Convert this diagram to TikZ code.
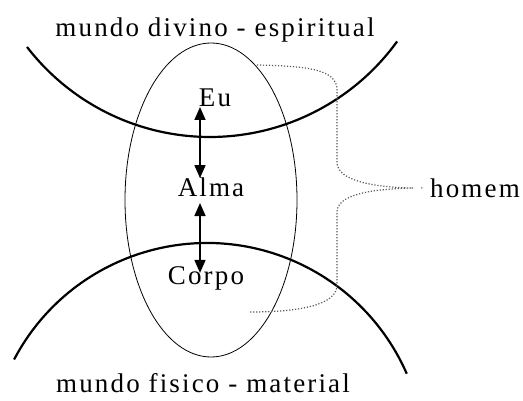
\documentclass[tikz,border=0pt]{standalone}
\usepackage{fontspec}
\setmainfont{Liberation Serif}[LetterSpace=8]
\usetikzlibrary{arrows.meta}
\begin{document}
\begin{tikzpicture}[x=1pt,y=1pt,
  lbl/.style={inner sep=0pt,anchor=base,font=\fontsize{27}{32}\selectfont},
  world/.style={line width=2.2pt},
  arr/.style={line width=1.6pt,{Triangle[length=13pt,width=11pt]}-{Triangle[length=13pt,width=11pt]}},
  brace/.style={line width=1.2pt,dash pattern=on 1.2pt off 1.8pt,black!65}]
\useasboundingbox (0,0) rectangle (523,400);
% worlds
\draw[world] (210,494) ++(217.6:231) arc[start angle=217.6,end angle=324.1,radius=231];
\draw[world] (207,-61) ++(152.25:218) arc[start angle=152.25,end angle=23.6,radius=218];
% man
\draw[line width=0.8pt] (211,200) ellipse[x radius=86,y radius=157];
% labels
\node[lbl] (divino) at (215,363) {mundo divino - espiritual};
\node[lbl] (fisico) at (203,8) {mundo fisico - material};
\node[lbl] (eu) at (215,294) {Eu};
\node[lbl] (alma) at (211,204) {Alma};
\node[lbl] (corpo) at (206,116) {Corpo};
\node[lbl] (homem) at (475,203) {homem};
\coordinate (ax) at (200,0);
\draw[arr] ([yshift=-1pt]eu.base -| ax) -- ([yshift=-1pt]alma.north -| ax);
\draw[arr] ([yshift=-7pt]alma.base -| ax) -- ([yshift=-7pt]corpo.north -| ax);
% brace
\coordinate (tip) at (412,212);
\draw[brace] (257,335) .. controls (310,334) and (337,330) .. (337,310) -- (337,238)
  .. controls (337,220) and (370,213) .. (tip)
  .. controls (370,211) and (337,205) .. (337,188) -- (337,115)
  .. controls (337,95) and (300,88) .. (250,88);
\draw[brace,dash pattern=on 1.2pt off 8pt] (tip) -- ([xshift=-2pt]homem.west);
\end{tikzpicture}
\end{document}
